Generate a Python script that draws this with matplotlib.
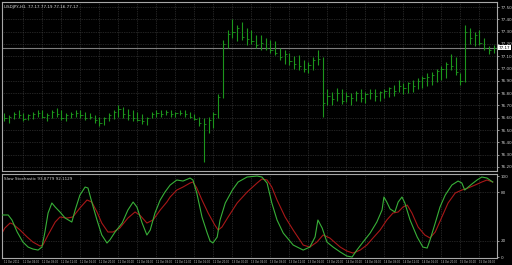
import matplotlib.pyplot as plt
import numpy as np

# price bars, one per hour
highs = [76.64, 76.62, 76.65, 76.66, 76.64, 76.63, 76.65, 76.66, 76.66, 76.64,
         76.66, 76.68, 76.66, 76.64, 76.65, 76.66, 76.66, 76.65, 76.64, 76.62,
         76.61, 76.61, 76.64, 76.66, 76.70, 76.69, 76.67, 76.66, 76.65, 76.63,
         76.61, 76.65, 76.66, 76.66, 76.66, 76.66, 76.65, 76.66, 76.66, 76.65,
         76.63, 76.61, 76.60, 76.61, 76.65, 76.79, 77.23, 77.31, 77.40, 77.35,
         77.38, 77.33, 77.31, 77.27, 77.27, 77.25, 77.23, 77.22, 77.17, 77.15,
         77.13, 77.10, 77.11, 77.07, 77.05, 77.09, 77.15, 77.09, 76.83, 76.81,
         76.84, 76.83, 76.81, 76.80, 76.82, 76.83, 76.81, 76.83, 76.83, 76.82,
         76.83, 76.85, 76.87, 76.91, 76.88, 76.89, 76.91, 76.92, 76.94, 76.96,
         76.97, 77.00, 77.02, 77.05, 77.12, 77.09, 76.96, 77.35, 77.33, 77.30,
         77.31, 77.25, 77.18, 77.19]
lows = [76.57, 76.56, 76.59, 76.60, 76.57, 76.58, 76.59, 76.61, 76.60, 76.57,
        76.60, 76.61, 76.58, 76.57, 76.60, 76.61, 76.60, 76.58, 76.59, 76.56,
        76.53, 76.54, 76.57, 76.59, 76.61, 76.60, 76.58, 76.57, 76.57, 76.55,
        76.54, 76.60, 76.61, 76.61, 76.62, 76.61, 76.61, 76.62, 76.61, 76.60,
        76.58, 76.53, 76.24, 76.48, 76.52, 76.60, 76.76, 77.17, 77.25, 77.22,
        77.23, 77.19, 77.20, 77.17, 77.15, 77.15, 77.13, 77.11, 77.07, 77.04,
        77.03, 77.00, 76.99, 76.97, 76.96, 76.99, 77.03, 76.61, 76.70, 76.70,
        76.74, 76.71, 76.73, 76.70, 76.74, 76.73, 76.72, 76.75, 76.74, 76.74,
        76.76, 76.77, 76.78, 76.81, 76.79, 76.80, 76.81, 76.83, 76.84, 76.86,
        76.87, 76.89, 76.91, 76.92, 76.99, 76.95, 76.87, 76.89, 77.20, 77.18,
        77.19, 77.15, 77.12, 77.13]
closes = [76.60, 76.61, 76.63, 76.62, 76.59, 76.62, 76.63, 76.64, 76.61, 76.62,
          76.65, 76.63, 76.60, 76.62, 76.63, 76.64, 76.62, 76.60, 76.61, 76.58,
          76.56, 76.60, 76.62, 76.65, 76.67, 76.63, 76.62, 76.60, 76.58, 76.57,
          76.60, 76.63, 76.64, 76.63, 76.65, 76.63, 76.64, 76.64, 76.63, 76.61,
          76.59, 76.56, 76.55, 76.58, 76.63, 76.77, 77.20, 77.28, 77.30, 77.33,
          77.26, 77.24, 77.22, 77.19, 77.21, 77.17, 77.15, 77.13, 77.09, 77.12,
          77.06, 77.04, 77.02, 77.00, 77.03, 77.07, 77.08, 76.72, 76.78, 76.75,
          76.80, 76.74, 76.78, 76.76, 76.80, 76.76, 76.79, 76.80, 76.78, 76.81,
          76.82, 76.84, 76.82, 76.86, 76.84, 76.88, 76.86, 76.90, 76.92, 76.93,
          76.95, 76.98, 77.00, 77.04, 77.02, 76.97, 76.90, 77.30, 77.25, 77.27,
          77.21, 77.17, 77.15, 77.17]
last_price = 77.17

# stochastic %K (green) and signal (red), positions in bars
k_pos = [-0.5, 0.8, 1.6, 2.7, 3.9, 5.0, 6.0, 7.1, 7.9, 8.5, 9.2, 10.0, 10.7, 11.7,
         12.8, 14.2, 14.9, 15.9, 17.0, 17.6, 18.4, 19.5, 20.5, 21.6, 22.2, 23.3,
         24.8, 26.0, 27.1, 27.9, 29.0, 30.0, 30.7, 31.7, 32.8, 33.8, 34.9, 36.3,
         37.6, 39.1, 39.7, 40.5, 41.6, 42.7, 43.3, 43.9, 44.8, 45.4, 46.5, 48.0,
         49.2, 51.1, 53.2, 54.2, 55.3, 56.3, 57.4, 58.7, 60.8, 62.9, 64.3, 65.4,
         66.0, 66.9, 67.9, 69.2, 70.7, 72.1, 73.2, 74.2, 75.5, 77.0, 78.4, 79.5,
         79.9, 80.5, 81.2, 82.2, 82.9, 83.7, 84.3, 85.4, 86.9, 88.1, 89.0, 89.6,
         90.7, 91.7, 92.8, 94.2, 95.5, 96.3, 96.9, 97.4, 98.4, 99.5, 100.5, 101.6,
         102.8]
k_val = [51.9, 51.9, 45.7, 30.9, 18.5, 12.3, 9.9, 8.6, 12.3, 29.6, 54.3, 66.7, 61.7,
         55.6, 48.1, 43.2, 58.0, 76.5, 86.4, 85.2, 67.9, 45.7, 27.2, 17.3, 21.0,
         30.9, 42.0, 58.0, 67.9, 61.7, 42.0, 27.2, 33.3, 54.3, 70.4, 80.2, 88.9,
         95.1, 93.8, 97.5, 95.1, 79.0, 49.4, 29.6, 19.8, 17.3, 24.7, 45.7, 66.7,
         82.7, 92.6, 98.8, 100.0, 98.8, 91.4, 66.7, 45.7, 29.6, 14.8, 8.6, 12.3,
         24.7, 45.7, 35.8, 18.5, 12.3, 6.2, 1.2, 0.0, 8.6, 18.5, 29.6, 43.2, 58.0,
         74.1, 67.9, 59.3, 55.6, 67.9, 74.1, 66.7, 45.7, 24.7, 12.3, 11.1, 21.0,
         42.0, 61.7, 76.5, 88.9, 93.8, 91.4, 82.7, 85.2, 90.1, 95.1, 98.8, 97.5,
         92.6]
d_pos = [-0.5, 0.1, 1.2, 1.8, 3.3, 4.8, 6.0, 7.5, 8.1, 9.2, 10.7, 11.7, 13.2, 14.4,
         15.9, 17.4, 18.4, 19.5, 20.5, 21.8, 22.9, 24.3, 26.0, 27.5, 28.5, 30.0,
         31.3, 32.8, 34.2, 34.9, 36.3, 37.6, 39.1, 39.7, 40.5, 41.6, 42.9, 44.3,
         45.0, 45.8, 47.1, 49.0, 51.1, 53.2, 54.2, 55.3, 56.3, 57.4, 59.1, 60.8,
         62.9, 64.3, 65.8, 67.1, 68.5, 70.7, 72.1, 73.4, 74.9, 76.3, 77.6, 79.1,
         80.5, 81.8, 82.9, 83.9, 84.8, 85.8, 87.1, 88.5, 89.6, 90.7, 92.1, 93.4,
         94.9, 96.3, 97.6, 99.1, 100.5, 101.6, 102.8]
d_val = [29.6, 35.8, 42.0, 40.7, 33.3, 24.7, 18.5, 13.6, 14.8, 27.2, 43.2, 49.4,
         48.1, 49.4, 60.5, 70.4, 67.9, 55.6, 42.0, 30.9, 30.9, 35.8, 48.1, 55.6,
         51.9, 42.0, 45.7, 58.0, 67.9, 74.1, 82.7, 86.4, 91.4, 92.6, 85.2, 70.4,
         54.3, 39.5, 33.3, 37.0, 49.4, 66.7, 80.2, 91.4, 96.3, 95.1, 86.4, 70.4,
         49.4, 33.3, 14.8, 12.3, 18.5, 27.2, 23.5, 12.3, 7.4, 4.9, 8.6, 14.8, 23.5,
         33.3, 45.7, 54.3, 55.6, 61.7, 64.2, 54.3, 37.0, 27.2, 23.5, 30.9, 49.4,
         66.7, 79.0, 82.7, 85.2, 88.9, 92.6, 95.1, 92.6]

price_ticks = [76.20, 76.30, 76.40, 76.50, 76.60, 76.70, 76.80, 76.90,
               77.00, 77.10, 77.20, 77.30, 77.40, 77.50]
date_pos = [0, 4, 8, 12, 16, 20, 24, 28, 32, 36, 40, 44, 48, 52, 56, 60, 64,
            68, 72, 76, 80, 84, 88, 92, 96, 100]
date_labels = ["11 Oct 2011", "11 Oct 04:00", "11 Oct 08:00", "11 Oct 12:00",
               "11 Oct 16:00", "11 Oct 20:00", "12 Oct 00:00", "12 Oct 04:00",
               "12 Oct 08:00", "12 Oct 12:00", "12 Oct 16:00", "12 Oct 20:00",
               "13 Oct 00:00", "13 Oct 04:00", "13 Oct 08:00", "13 Oct 12:00",
               "13 Oct 16:00", "13 Oct 20:00", "14 Oct 00:00", "14 Oct 04:00",
               "14 Oct 08:00", "14 Oct 12:00", "14 Oct 16:00", "14 Oct 20:00",
               "15 Oct 00:00", "15 Oct 04:00"]

bg = "black"
grid_c = "#464646"
frame_c = "#a8a8a8"
text_c = "#d0d0d0"
fs = 3.0

fig = plt.figure(figsize=(5.12, 2.65), dpi=100, facecolor=bg)
ax = fig.add_axes([0.0039, 0.3547, 0.9668, 0.6378], facecolor=bg)
ax2 = fig.add_axes([0.0039, 0.0264, 0.9668, 0.3170], facecolor=bg, sharex=ax)

xlim = (-0.5, 103.7)
for a in (ax, ax2):
    a.set_xlim(*xlim)
    for s in a.spines.values():
        s.set_color(frame_c)
        s.set_linewidth(0.8)
    a.yaxis.tick_right()
    a.tick_params(axis="y", colors=text_c, labelsize=fs, length=1.5, width=0.5, pad=1)
    a.tick_params(axis="x", length=0)
    for p in date_pos[1:]:
        a.axvline(p, color=grid_c, lw=0.5, ls=(0, (1, 1.5)), zorder=0)

# main price panel
bars = np.arange(len(highs))
ax.set_ylim(76.167, 77.541)
ax.set_yticks(price_ticks)
ax.set_yticklabels([f"{t:.2f}" for t in price_ticks])
for t in price_ticks:
    ax.axhline(t, color=grid_c, lw=0.5, ls=(0, (1, 1.5)), zorder=0)
ax.vlines(bars, lows, highs, color="#1c961c", lw=0.8, zorder=2)
ax.hlines(closes, bars, bars + 0.45, color="#1c961c", lw=0.6, zorder=2)
ax.axhline(last_price, color="#7c7c7c", lw=0.8, zorder=1)
ax.annotate(f"{last_price:.2f}", xy=(1.0, last_price), xycoords=("axes fraction", "data"),
            xytext=(1.5, 0), textcoords="offset points", ha="left", va="center",
            fontsize=fs, color="black", annotation_clip=False,
            bbox=dict(boxstyle="square,pad=0.15", fc="white", ec="none"))
ax.text(0.004, 0.985, "USDJPY,H1  77.17 77.19 77.16 77.17", transform=ax.transAxes,
        ha="left", va="top", fontsize=fs, color=text_c)
plt.setp(ax.get_xticklabels(), visible=False)

# stochastic panel
ax2.set_ylim(-1.2, 102.5)
ax2.set_yticks([0, 20, 80, 100])
ax2.set_yticklabels(["0", "20", "80", "100"])
for lvl in (20, 80):
    ax2.axhline(lvl, color=grid_c, lw=0.5, ls=(0, (1, 1.5)), zorder=0)
ax2.plot(d_pos, d_val, color="#a81818", lw=0.8, zorder=2)
ax2.plot(k_pos, k_val, color="#38b038", lw=0.8, zorder=3)
ax2.text(0.004, 0.96, "Slow Stochastic 93.8779 92.1129", transform=ax2.transAxes,
         ha="left", va="top", fontsize=fs, color=text_c)
ax2.set_xticks(date_pos)
ax2.set_xticklabels(date_labels, fontsize=1.85, color=text_c, ha="left")
ax2.tick_params(axis="x", pad=1.2)

fig.savefig("out.png", dpi=100, facecolor=bg)
